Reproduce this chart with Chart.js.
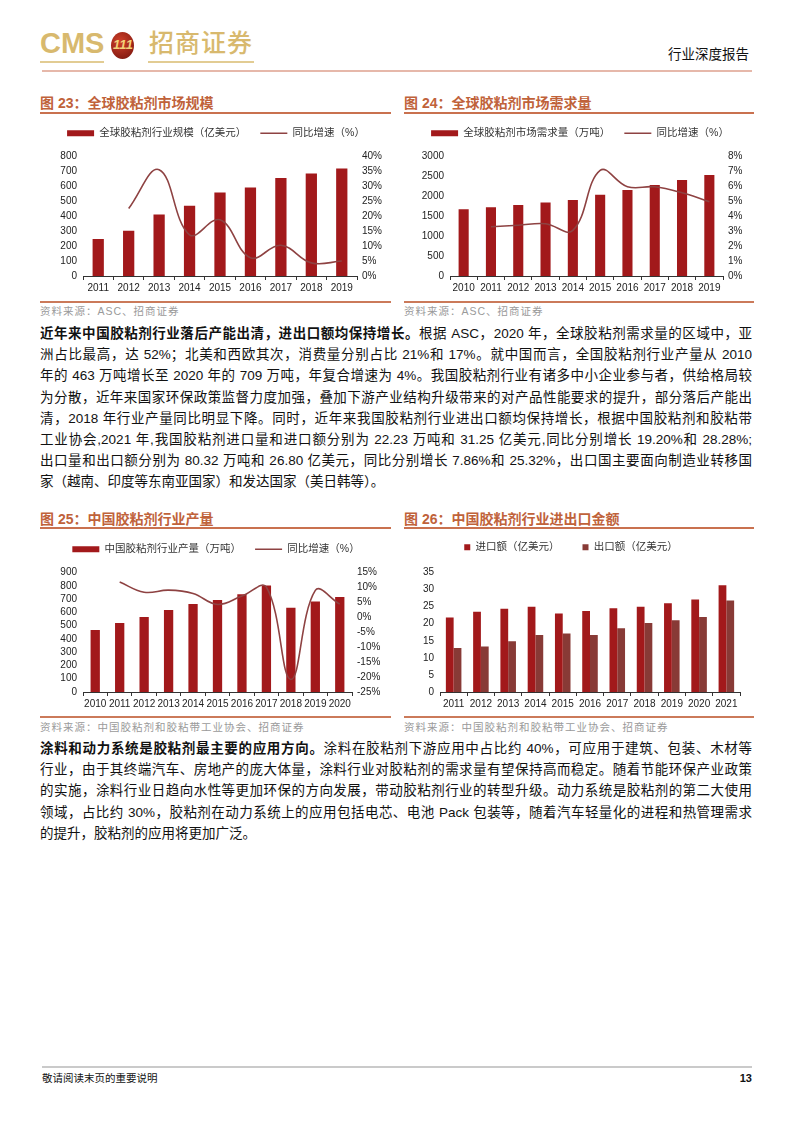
<!DOCTYPE html>
<html>
<head>
<meta charset="utf-8">
<script src="https://cdn.jsdelivr.net/npm/chart.js@4.4.1/dist/chart.umd.min.js"></script>
<style>
body { margin: 0; background: #fff; }
#page { position: relative; width: 794px; height: 1123px; overflow: hidden; font-family: "Liberation Sans", "Noto Sans CJK SC", sans-serif; color: #111; }
.figtitle { position: absolute; font-size: 14px; font-weight: bold; color: #C0623A; line-height: 16px; white-space: nowrap; }
.figline { position: absolute; height: 2px; background: #C9714F; }
.srcline { position: absolute; height: 2px; background: #CB7A5A; }
.src { position: absolute; font-size: 10.5px; color: #9a9a9a; letter-spacing: 1px; line-height: 14px; white-space: nowrap; }
.para { position: absolute; left: 40px; width: 712px; font-size: 13.5px; line-height: 21.2px; color: #111; }
.para div { text-align: justify; text-align-last: justify; height: 21.2px; overflow: hidden; }
.para div.last { text-align-last: left; }
.box { position: absolute; }
</style>
</head>
<body>
<div id="page">
  <!-- header -->
  <div style="position:absolute;left:40px;top:26px;font-size:29px;font-weight:bold;color:#D8B96E;line-height:34px;">CMS</div>
  <div style="position:absolute;left:40px;top:61px;width:64px;height:2px;background:#E2CC93;"></div>
  <div style="position:absolute;left:111px;top:32px;width:23px;height:27px;border-radius:50%;background:radial-gradient(circle at 40% 35%,#D0402A,#8E1F14 70%,#6b160e);"></div>
  <div style="position:absolute;left:113px;top:36px;width:20px;font-size:13px;font-weight:bold;font-style:italic;color:#F2D27A;line-height:18px;text-align:center;">111</div>
  <div style="position:absolute;left:149px;top:27px;font-size:25px;color:#D8B96E;line-height:32px;font-weight:500;letter-spacing:1px;">招商证券</div>
  <div style="position:absolute;left:148px;top:61px;width:106px;height:2px;background:#E2CC93;"></div>
  <div style="position:absolute;left:668px;top:46px;font-size:13.5px;color:#111;line-height:18px;">行业深度报告</div>
  <div style="position:absolute;left:42px;top:70px;width:710px;height:2px;background:#E6B8AA;"></div>

  <!-- figures 23 / 24 -->
  <div class="figtitle" style="left:40px;top:95px;">图 23：全球胶粘剂市场规模</div>
  <div class="figline" style="left:40px;top:112px;width:351px;"></div>
  <div class="figtitle" style="left:404px;top:95px;">图 24：全球胶粘剂市场需求量</div>
  <div class="figline" style="left:404px;top:112px;width:350px;"></div>
  <div class="box" style="left:38px;top:114px;"><canvas id="c23" width="356" height="186"></canvas></div>
  <div class="box" style="left:402px;top:114px;"><canvas id="c24" width="356" height="186"></canvas></div>
  <div class="srcline" style="left:40px;top:301px;width:351px;"></div>
  <div class="srcline" style="left:404px;top:301px;width:350px;"></div>
  <div class="src" style="left:40px;top:304px;">资料来源：ASC、招商证券</div>
  <div class="src" style="left:404px;top:304px;">资料来源：ASC、招商证券</div>

  <div class="para" style="top:323px;">
    <div><b>近年来中国胶粘剂行业落后产能出清，进出口额均保持增长。</b>根据 ASC，2020 年，全球胶粘剂需求量的区域中，亚</div>
    <div>洲占比最高，达 52%；北美和西欧其次，消费量分别占比 21%和 17%。就中国而言，全国胶粘剂行业产量从 2010</div>
    <div>年的 463 万吨增长至 2020 年的 709 万吨，年复合增速为 4%。我国胶粘剂行业有诸多中小企业参与者，供给格局较</div>
    <div>为分散，近年来国家环保政策监督力度加强，叠加下游产业结构升级带来的对产品性能要求的提升，部分落后产能出</div>
    <div>清，2018 年行业产量同比明显下降。同时，近年来我国胶粘剂行业进出口额均保持增长，根据中国胶粘剂和胶粘带</div>
    <div>工业协会,2021 年,我国胶粘剂进口量和进口额分别为 22.23 万吨和 31.25 亿美元,同比分别增长 19.20%和 28.28%;</div>
    <div>出口量和出口额分别为 80.32 万吨和 26.80 亿美元，同比分别增长 7.86%和 25.32%，出口国主要面向制造业转移国</div>
    <div class="last">家（越南、印度等东南亚国家）和发达国家（美日韩等）。</div>
  </div>

  <!-- figures 25 / 26 -->
  <div class="figtitle" style="left:40px;top:511px;">图 25：中国胶粘剂行业产量</div>
  <div class="figline" style="left:40px;top:527px;width:351px;"></div>
  <div class="figtitle" style="left:404px;top:511px;">图 26：中国胶粘剂行业进出口金额</div>
  <div class="figline" style="left:404px;top:527px;width:350px;"></div>
  <div class="box" style="left:38px;top:530px;"><canvas id="c25" width="356" height="186"></canvas></div>
  <div class="box" style="left:402px;top:519px;"><canvas id="c26" width="356" height="197"></canvas></div>
  <div class="srcline" style="left:40px;top:716px;width:351px;"></div>
  <div class="srcline" style="left:404px;top:716px;width:350px;"></div>
  <div class="src" style="left:40px;top:720px;">资料来源：中国胶粘剂和胶粘带工业协会、招商证券</div>
  <div class="src" style="left:404px;top:720px;">资料来源：中国胶粘剂和胶粘带工业协会、招商证券</div>

  <div class="para" style="top:738px;">
    <div><b>涂料和动力系统是胶粘剂最主要的应用方向。</b>涂料在胶粘剂下游应用中占比约 40%，可应用于建筑、包装、木材等</div>
    <div>行业，由于其终端汽车、房地产的庞大体量，涂料行业对胶粘剂的需求量有望保持高而稳定。随着节能环保产业政策</div>
    <div>的实施，涂料行业日趋向水性等更加环保的方向发展，带动胶粘剂行业的转型升级。动力系统是胶粘剂的第二大使用</div>
    <div>领域，占比约 30%，胶粘剂在动力系统上的应用包括电芯、电池 Pack 包装等，随着汽车轻量化的进程和热管理需求</div>
    <div class="last">的提升，胶粘剂的应用将更加广泛。</div>
  </div>

  <!-- footer -->
  <div style="position:absolute;left:42px;top:1066px;width:710px;height:2px;background:#CACACA;"></div>
  <div style="position:absolute;left:42px;top:1071px;font-size:10.5px;color:#111;line-height:14px;">敬请阅读末页的重要说明</div>
  <div style="position:absolute;right:42px;top:1071px;font-size:11px;font-weight:bold;color:#111;line-height:14px;">13</div>
</div>

<script>
// 图23 全球胶粘剂市场规模
const years23 = ["2011", "2012", "2013", "2014", "2015", "2016", "2017", "2018", "2019"]
const scale23 = [247, 303, 411, 471, 559, 592, 656, 687, 720]
const growth23 = [null, 22.6, 35.6, 13.8, 18.8, 6.1, 10.3, 4.4, 5.0]

// 图24 全球胶粘剂市场需求量
const years24 = ["2010", "2011", "2012", "2013", "2014", "2015", "2016", "2017", "2018", "2019"]
const demand24 = [1674, 1723, 1781, 1848, 1906, 2038, 2162, 2287, 2411, 2535]
const growth24 = [null, 3.3, 3.4, 3.5, 3.05, 7.07, 5.98, 5.97, 5.57, 4.97]

// 图25 中国胶粘剂行业产量
const years25 = ["2010", "2011", "2012", "2013", "2014", "2015", "2016", "2017", "2018", "2019", "2020"]
const output25 = [467, 520, 565, 617, 662, 692, 737, 802, 635, 682, 715]
const growth25 = [null, 11.8, 8.4, 9.1, 8.0, 4.3, 7.1, 10.1, -20.8, 9.0, 4.4]

// 图26 中国胶粘剂行业进出口金额
const years26 = ["2011", "2012", "2013", "2014", "2015", "2016", "2017", "2018", "2019", "2020", "2021"]
const import26 = [21.8, 23.5, 24.4, 25.0, 23.0, 23.7, 24.5, 25.0, 26.0, 27.1, 31.25]
const export26 = [12.9, 13.3, 14.9, 16.7, 17.1, 16.7, 18.7, 20.2, 21.0, 22.0, 26.8]

const FONT = '"Liberation Sans", "Noto Sans CJK SC", sans-serif'
const BAR_RED = "#A2191B"
const BAR_BROWN = "#883A36"
const LINE_RED = "#8E4242"

// adds some room under the legend
function legendGap(extra) {
    return {
        id: "legendGap",
        beforeInit(chart) {
            const fit = chart.legend.fit
            chart.legend.fit = function () {
                fit.bind(chart.legend)()
                this.height += extra
            }
        }
    }
}

function xAxis() {
    return {
        grid: { display: true, drawOnChartArea: false, offset: true, tickLength: 4, color: "#333", lineWidth: 1 },
        border: { display: true, color: "#333", width: 1 },
        ticks: { color: "#222", font: { family: FONT, size: 10 }, padding: 2, autoSkip: false, maxRotation: 0 }
    }
}

function yAxis(min, max, step, width, pos, pct) {
    return {
        position: pos,
        min: min,
        max: max,
        grid: { display: false, drawTicks: false },
        border: { display: false },
        ticks: {
            stepSize: step,
            autoSkip: false,
            color: "#222",
            font: { family: FONT, size: 10 },
            padding: pos === "left" ? 6 : 5,
            callback: (v) => pct ? v + "%" : v
        },
        afterFit: (scale) => { scale.width = width }
    }
}

function legendOpts(pad, boxW, boxH) {
    return {
        position: "top",
        labels: {
            usePointStyle: true,
            pointStyleWidth: boxW,
            boxHeight: boxH,
            color: "#333",
            padding: pad,
            font: { family: FONT, size: 10.5 },
            generateLabels(chart) {
                const items = Chart.defaults.plugins.legend.labels.generateLabels(chart)
                items.forEach((it) => {
                    const ds = chart.data.datasets[it.datasetIndex]
                    if (ds.type === "line") {
                        it.pointStyle = "line"
                    } else {
                        it.pointStyle = "rect"
                        it.lineWidth = 0
                    }
                })
                items.sort((a, b) => a.datasetIndex - b.datasetIndex)
                return items
            }
        }
    }
}

function barLineChart(id, labels, barLabel, bars, lineLabel, line, left, right, barPct) {
    return new Chart(document.getElementById(id), {
        data: {
            labels: labels,
            datasets: [
                {
                    type: "bar",
                    label: barLabel,
                    data: bars,
                    backgroundColor: BAR_RED,
                    barPercentage: barPct,
                    categoryPercentage: 1,
                    yAxisID: "y",
                    order: 1
                },
                {
                    type: "line",
                    label: lineLabel,
                    data: line,
                    borderColor: LINE_RED,
                    backgroundColor: LINE_RED,
                    borderWidth: 1.6,
                    pointRadius: 0,
                    tension: 0.4,
                    yAxisID: "y1",
                    order: 0
                }
            ]
        },
        options: {
            responsive: false,
            animation: false,
            devicePixelRatio: 1,
            layout: { padding: { top: 0, bottom: 4, left: 0, right: 0 } },
            plugins: { legend: legendOpts(14, 27, 6), tooltip: { enabled: false } },
            scales: {
                x: xAxis(),
                y: yAxis(left[0], left[1], left[2], left[3], "left", false),
                y1: yAxis(right[0], right[1], right[2], right[3], "right", true)
            }
        },
        plugins: [legendGap(8)]
    })
}

barLineChart("c23", years23, "全球胶粘剂行业规模（亿美元）", scale23, "同比增速（%）", growth23,
    [0, 800, 100, 45], [0, 40, 5, 37], 0.37)
barLineChart("c24", years24, "全球胶粘剂市场需求量（万吨）", demand24, "同比增速（%）", growth24,
    [0, 3000, 500, 48], [0, 8, 1, 35], 0.37)
barLineChart("c25", years25, "中国胶粘剂行业产量（万吨）", output25, "同比增速（%）", growth25,
    [0, 900, 100, 45], [-25, 15, 5, 42], 0.38)

new Chart(document.getElementById("c26"), {
    type: "bar",
    data: {
        labels: years26,
        datasets: [
            { label: "进口额（亿美元）", data: import26, backgroundColor: BAR_RED, barPercentage: 1, categoryPercentage: 0.57 },
            { label: "出口额（亿美元）", data: export26, backgroundColor: BAR_BROWN, barPercentage: 1, categoryPercentage: 0.57 }
        ]
    },
    options: {
        responsive: false,
        animation: false,
        devicePixelRatio: 1,
        layout: { padding: { top: 0, bottom: 4, left: 0, right: 18 } },
        plugins: { legend: legendOpts(23, 6, 6), tooltip: { enabled: false } },
        scales: {
            x: xAxis(),
            y: yAxis(0, 35, 5, 38, "left", false)
        }
    },
    plugins: [legendGap(10)]
})
</script>
</body>
</html>
